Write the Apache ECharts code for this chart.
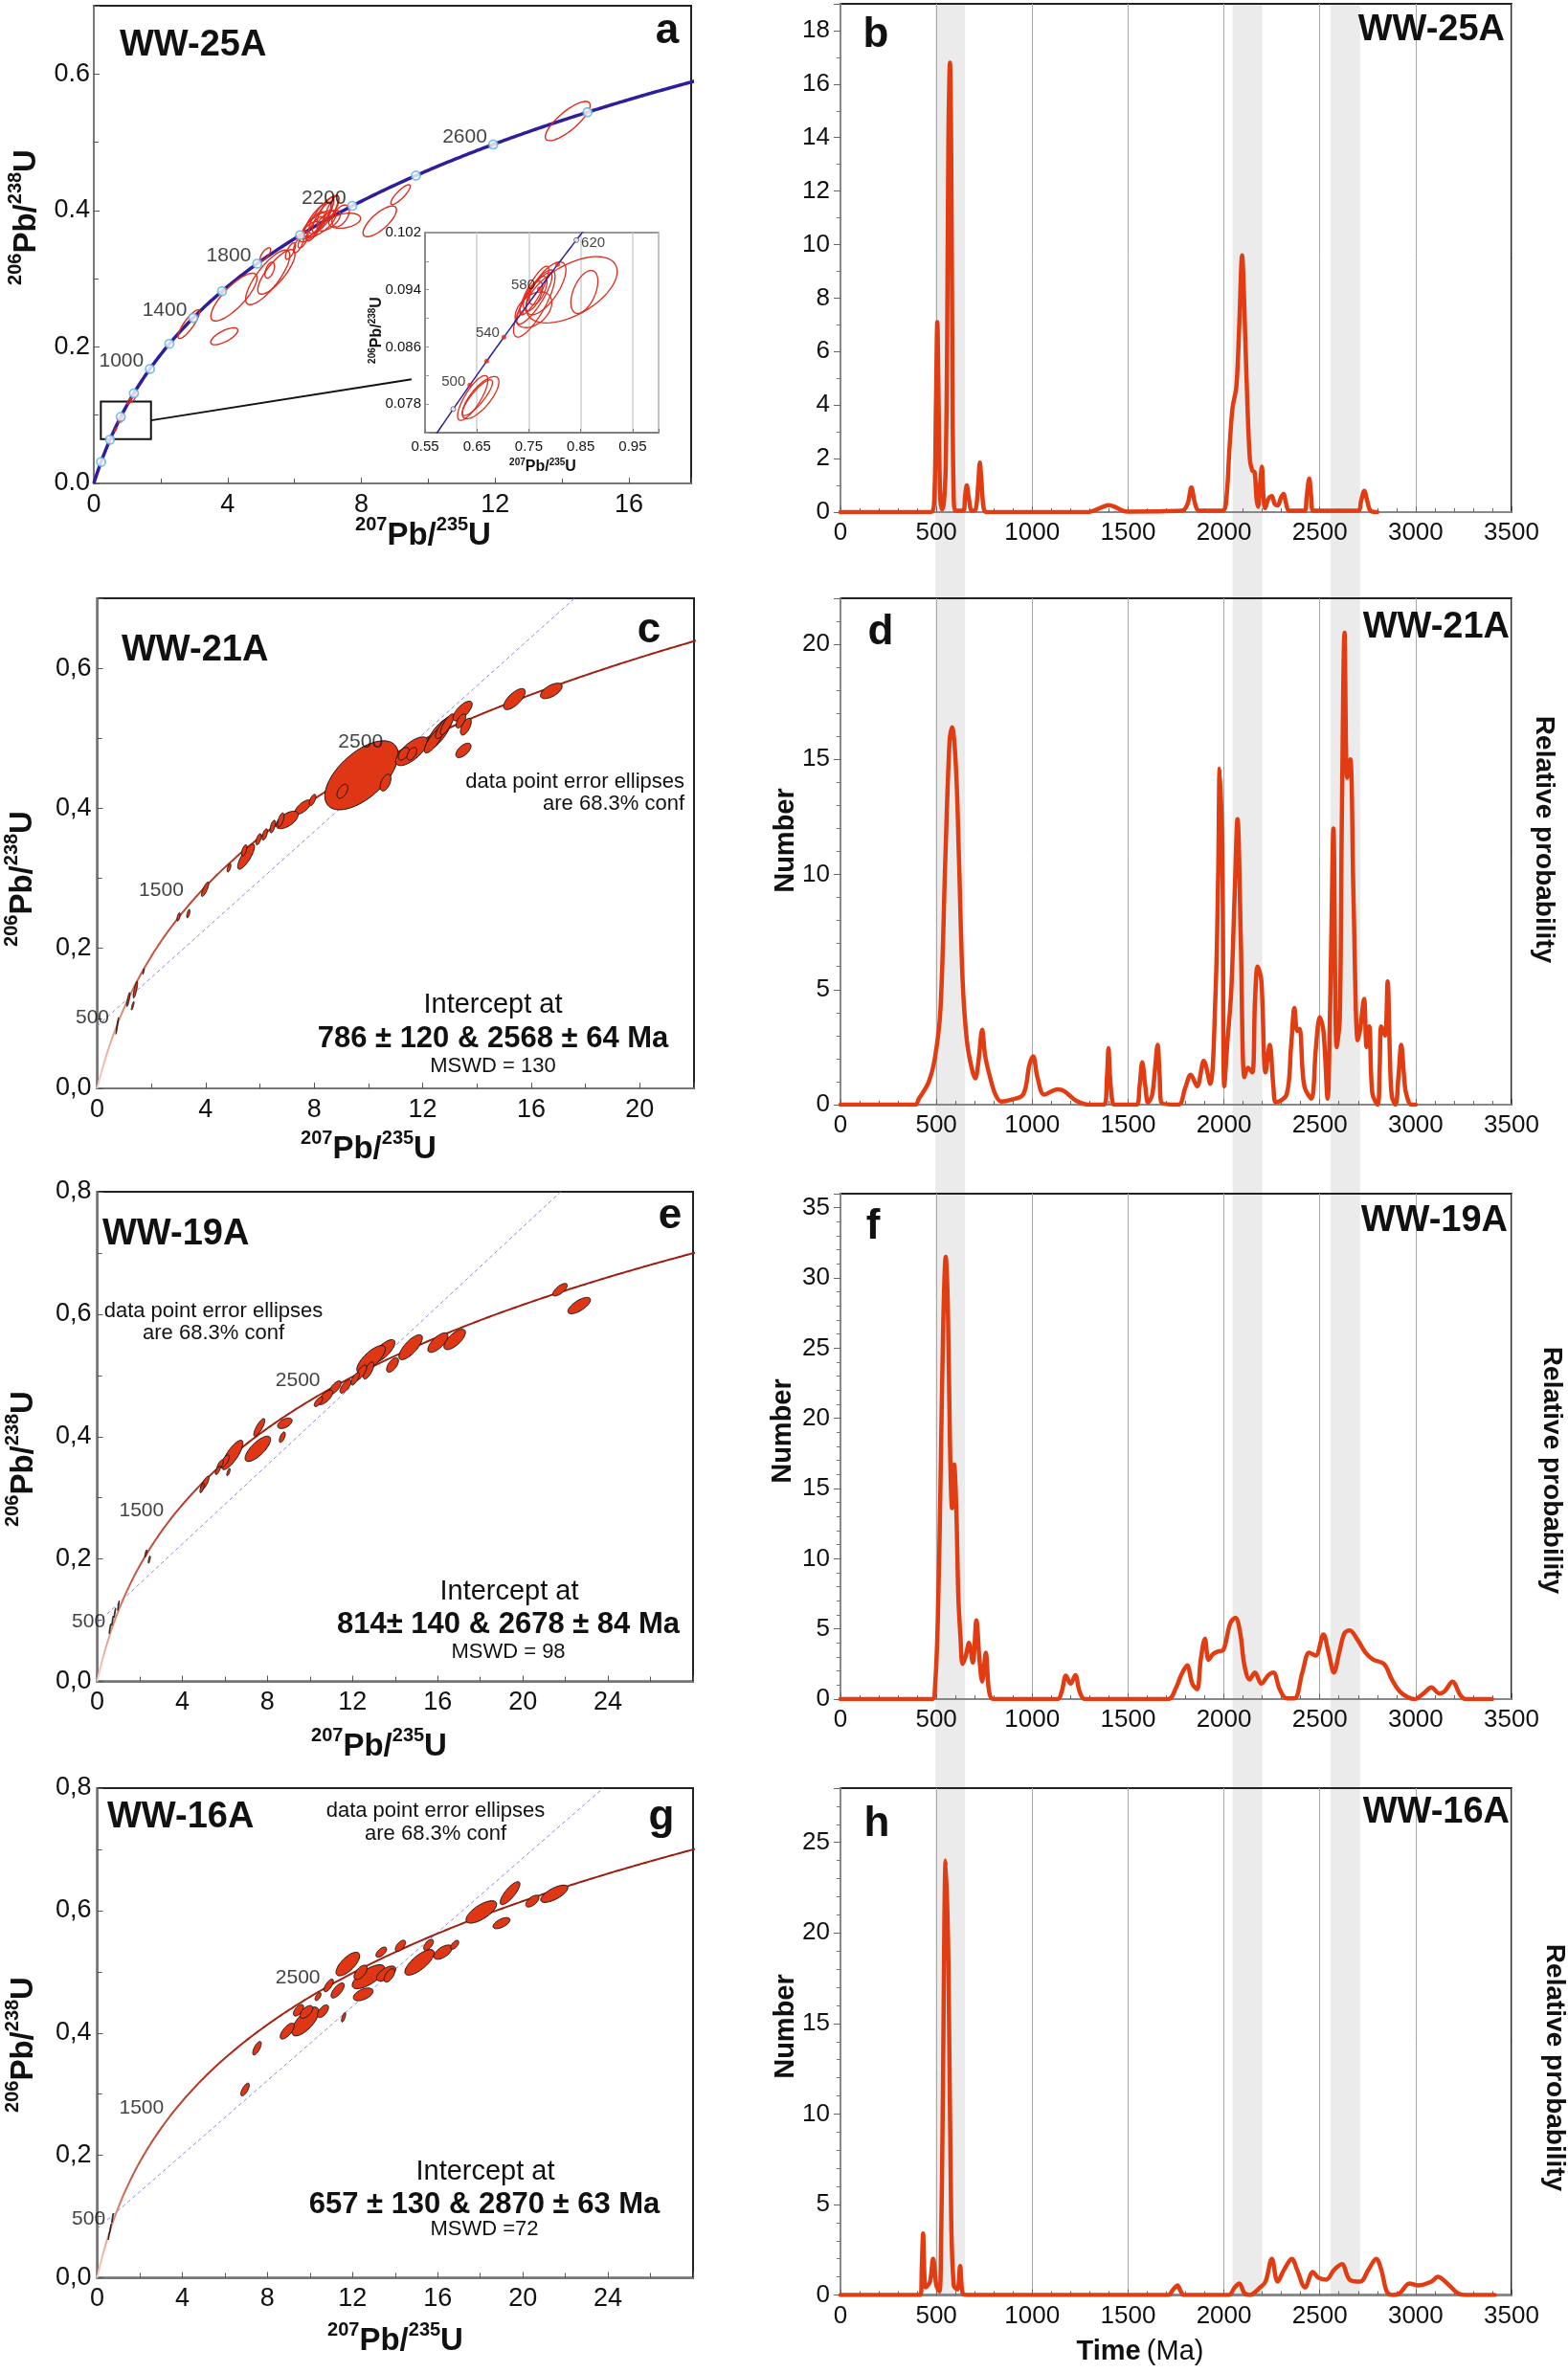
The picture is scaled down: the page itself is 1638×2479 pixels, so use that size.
<!DOCTYPE html>
<html>
<head>
<meta charset="utf-8">
<script src="https://cdn.jsdelivr.net/npm/echarts@6/dist/echarts.min.js"></script>
<style>html,body{margin:0;padding:0;background:#fff}#c{width:1638px;height:2479px}</style>
</head>
<body>
<div id="c"></div>
<script>
// ---------------- DATA ----------------
const L238 = 1.55125e-4;   // per Ma
const L235 = 9.8485e-4;    // per Ma
const pdpTicks = [0, 500, 1000, 1500, 2000, 2500, 3000, 3500];
const bandRanges = [[495, 650], [2045, 2200], [2555, 2710]];

// probability density curves [age Ma, number]
const pdpB = [[0,0],[470,0],[488,0.3],[498,4],[505,7.1],[512,4],[520,0.6],[530,0.1],[540,0.4],[549,1.75],[556,6],[563,14],[571,16.8],[578,13],[584,5],[590,0.8],[600,0.05],[640,0.05],[650,0.6],[659,1.0],[668,0.6],[685,0.05],[705,0.1],[718,1.0],[727,1.85],[735,1.2],[748,0.1],[765,0],[1290,0],[1330,0.08],[1370,0.2],[1400,0.26],[1430,0.2],[1470,0.06],[1500,0.02],[1780,0.05],[1810,0.3],[1830,0.92],[1850,0.3],[1870,0.05],[1990,0.05],[2010,0.3],[2030,2.5],[2045,3.9],[2065,4.7],[2080,7],[2095,9.6],[2105,8],[2118,5],[2135,2],[2148,1.55],[2160,1.5],[2170,0.5],[2178,0.2],[2188,1.0],[2198,1.7],[2206,0.6],[2215,0.15],[2232,0.5],[2250,0.6],[2265,0.3],[2280,0.25],[2298,0.55],[2310,0.68],[2325,0.3],[2340,0.05],[2420,0.05],[2432,0.6],[2445,1.25],[2455,0.6],[2465,0.05],[2700,0.05],[2715,0.4],[2732,0.8],[2748,0.4],[2765,0.05],[2800,0]];
const pdpD = [[0,0],[390,0],[409,0.26],[459,0.96],[494,2.1],[522,4.2],[547,10.7],[569,15.8],[582,16.4],[602,14.7],[618,10.7],[637,5.4],[659,2.8],[684,1.6],[703,1.14],[720,1.9],[739,3.25],[755,2.1],[780,1.2],[808,0.44],[838,0.14],[885,0.2],[953,0.44],[986,1.75],[1005,2.1],[1027,1.2],[1063,0.44],[1132,0.67],[1165,0.6],[1228,0.18],[1297,0],[1375,0],[1390,1.2],[1398,2.45],[1406,1.2],[1420,0.05],[1434,0],[1544,0],[1560,0.8],[1574,1.84],[1590,0.8],[1604,0.1],[1625,0.4],[1640,1.5],[1654,2.6],[1665,1.2],[1673,0.1],[1764,0],[1797,0.7],[1827,1.3],[1860,0.8],[1895,1.9],[1928,0.9],[1956,4.8],[1970,10],[1978,14.6],[1992,10.7],[2002,0.8],[2019,2.8],[2038,4.9],[2055,8.9],[2071,12.4],[2088,7.2],[2107,1.2],[2126,1.6],[2148,1.4],[2162,4.5],[2176,6.0],[2195,5.4],[2217,1.4],[2239,2.6],[2258,0.8],[2272,0.1],[2327,0.44],[2350,2.5],[2368,4.2],[2382,3.2],[2395,3.3],[2410,1.5],[2423,0.7],[2456,0.26],[2480,2.5],[2500,3.8],[2519,3.2],[2541,0.26],[2552,3.5],[2560,7.2],[2571,12.0],[2588,2.5],[2604,3.7],[2615,12.4],[2629,20.5],[2643,14.2],[2659,15.0],[2676,8.9],[2698,2.8],[2711,3.3],[2731,4.6],[2744,2.5],[2758,3.4],[2774,0.5],[2802,0],[2812,1.5],[2821,3.4],[2840,3.0],[2854,5.35],[2866,2],[2876,0.35],[2895,0],[2910,1.2],[2925,2.6],[2940,1.2],[2950,0.5],[2978,0],[3000,0]];
const pdpF = [[0,0],[478,0],[494,1.1],[508,5.8],[522,15.6],[536,26.7],[549,31.5],[560,28],[571,18.3],[582,13.6],[593,16.7],[604,13.6],[615,7.2],[626,4.4],[637,2.5],[654,3.1],[670,4.0],[690,2.6],[709,5.6],[725,2.8],[739,1.25],[758,3.3],[775,0.55],[797,0],[1132,0],[1154,0.55],[1176,1.67],[1200,1.1],[1225,1.7],[1247,0.55],[1275,0],[1709,0],[1750,0.8],[1777,1.7],[1808,2.4],[1835,1.1],[1860,0.7],[1879,2.8],[1901,4.3],[1920,2.8],[1942,3.2],[1970,3.4],[1997,3.5],[2033,5.4],[2060,5.8],[2085,4.7],[2107,2.4],[2134,1.4],[2162,1.9],[2195,1.1],[2231,1.7],[2258,1.9],[2291,0.7],[2327,0.05],[2368,0.05],[2409,1.9],[2445,3.3],[2478,3.1],[2519,4.6],[2546,3.3],[2574,1.9],[2601,3.3],[2629,4.7],[2656,4.9],[2698,4.2],[2739,3.3],[2780,2.8],[2835,2.5],[2876,1.4],[2917,0.55],[2959,0.14],[2994,0],[3041,0.4],[3082,0.83],[3123,0.4],[3151,0.55],[3192,1.25],[3233,0.28],[3261,0],[3398,0]];
const pdpH = [[0,0],[418,0],[424,1.5],[431,3.4],[438,1],[445,0.42],[467,0.74],[483,2.0],[500,0.53],[516,0.2],[525,3],[533,9.9],[549,24.0],[563,18.4],[577,4.6],[591,0.53],[610,0.3],[624,1.6],[637,0.1],[659,0],[1709,0],[1735,0.3],[1758,0.53],[1775,0.2],[1791,0],[2025,0],[2055,0.4],[2080,0.64],[2107,0.1],[2134,0],[2189,0.42],[2217,0.74],[2250,2.0],[2280,0.74],[2313,1.38],[2354,2.0],[2382,1.38],[2423,0.42],[2464,1.27],[2492,0.96],[2533,0.85],[2574,1.38],[2615,1.7],[2656,0.85],[2711,0.74],[2753,1.38],[2794,2.0],[2821,1.38],[2849,0.2],[2876,0],[2917,0.1],[2967,0.64],[3013,0.53],[3082,0.74],[3115,1.0],[3165,0.64],[3220,0.1],[3261,0],[3412,0]];

// error ellipses [207Pb/235U, 206Pb/238U, half-width x, half-height y, correlation]
const ellA = [[2.84,0.2333,0.32,0.021,0.85],[3.90,0.2156,0.405,0.0124,0.7],[4.19,0.273,0.69,0.035,0.8],[5.2,0.302,0.66,0.04,0.8],[5.46,0.310,0.557,0.0327,0.8],[5.26,0.3126,0.143,0.0117,0.5],[5.13,0.336,0.157,0.0093,0.7],[5.88,0.3406,0.15,0.012,0.7],[6.12,0.3499,0.15,0.012,0.7],[6.26,0.357,0.15,0.012,0.7],[6.55,0.378,0.35,0.02,0.8],[6.69,0.387,0.4,0.025,0.8],[6.83,0.390,0.3,0.022,0.8],[6.93,0.399,0.25,0.02,0.8],[7.12,0.404,0.2,0.018,0.8],[6.45,0.369,0.3,0.015,0.7],[6.74,0.380,0.5,0.02,0.7],[7.02,0.385,0.35,0.015,0.6],[6.60,0.373,0.25,0.018,0.8],[6.88,0.394,0.45,0.028,0.8],[7.50,0.385,0.476,0.011,0.3],[7.38,0.392,0.26,0.016,0.5],[8.55,0.384,0.5,0.0225,0.75],[9.17,0.4232,0.29,0.0145,0.85],[14.17,0.531,0.67,0.0287,0.8],[1.18,0.125,0.08,0.006,0.8],[1.05,0.12,0.05,0.004,0.8]];
const ellInset = [[0.642,0.07886,0.0292,0.00314,0.8],[0.657,0.0789,0.0354,0.00296,0.75],[0.651,0.0789,0.029,0.0025,0.85],[0.7606,0.09208,0.04,0.0047,0.8],[0.7606,0.0928,0.034,0.0036,0.85],[0.7606,0.0939,0.0277,0.0034,0.85],[0.783,0.0942,0.0385,0.0037,0.7],[0.758,0.0931,0.0185,0.0021,0.6],[0.768,0.0939,0.017,0.002,0.6],[0.8326,0.094,0.0877,0.00464,0.55],[0.857,0.0937,0.026,0.003,0.5],[0.7589,0.0912,0.0354,0.0025,0.4]];
const ellC = [[9.745,0.4472,1.353,0.0493,0.6],[9.04,0.4244,0.2,0.01,0.5],[10.63,0.4367,0.2,0.012,0.5],[11.59,0.4815,0.588,0.0205,0.7],[11.3,0.478,0.2,0.009,0.5],[11.6,0.478,0.18,0.009,0.5],[12.59,0.5065,0.47,0.0228,0.8],[12.41,0.497,0.35,0.018,0.8],[12.77,0.5156,0.3,0.016,0.8],[12.9,0.52,0.25,0.015,0.8],[13.47,0.539,0.353,0.0141,0.7],[13.41,0.5247,0.18,0.01,0.6],[13.59,0.5166,0.2,0.012,0.6],[13.5,0.4828,0.28,0.0103,0.6],[15.38,0.556,0.4,0.015,0.7],[16.74,0.5677,0.4,0.011,0.6],[7.59,0.4017,0.3,0.0103,0.7],[7.94,0.412,0.12,0.008,0.6],[7.0,0.3834,0.41,0.0125,0.6],[6.77,0.3834,0.12,0.01,0.6],[6.47,0.374,0.1,0.009,0.6],[6.18,0.3627,0.1,0.008,0.6],[5.95,0.3558,0.1,0.008,0.6],[5.49,0.331,0.31,0.018,0.8],[5.42,0.34,0.1,0.008,0.6],[4.86,0.315,0.07,0.006,0.6],[3.98,0.2844,0.135,0.0103,0.8],[3.0,0.245,0.06,0.006,0.6],[3.36,0.2496,0.06,0.006,0.6],[1.41,0.141,0.08,0.012,0.8],[1.15,0.127,0.06,0.01,0.8],[1.31,0.118,0.05,0.006,0.8],[1.71,0.167,0.03,0.004,0.8],[0.74,0.0894,0.05,0.012,0.95]];
const ellE = [[21.75,0.64,0.34,0.0102,0.7],[22.65,0.614,0.53,0.0134,0.7],[16.8,0.5587,0.506,0.0166,0.7],[16.01,0.5535,0.47,0.016,0.7],[14.73,0.546,0.55,0.0204,0.75],[13.88,0.517,0.28,0.0118,0.6],[13.43,0.5394,0.56,0.019,0.75],[12.87,0.5266,0.67,0.0223,0.75],[12.75,0.508,0.25,0.014,0.7],[12.41,0.505,0.25,0.012,0.7],[12.12,0.4945,0.2,0.01,0.7],[11.67,0.482,0.26,0.011,0.7],[11.18,0.48,0.28,0.011,0.7],[10.73,0.464,0.34,0.0118,0.7],[10.4,0.457,0.2,0.008,0.7],[8.82,0.4217,0.34,0.0086,0.5],[8.7,0.399,0.14,0.0086,0.6],[7.62,0.415,0.26,0.0144,0.8],[7.55,0.38,0.6,0.0207,0.75],[6.35,0.37,0.5,0.024,0.8],[6.01,0.36,0.2,0.01,0.7],[5.78,0.354,0.15,0.008,0.7],[5.67,0.345,0.12,0.007,0.7],[6.17,0.342,0.08,0.006,0.7],[5.06,0.3237,0.2,0.0115,0.8],[4.93,0.316,0.1,0.008,0.7],[2.29,0.209,0.05,0.006,0.7],[2.45,0.199,0.05,0.006,0.7],[1.0,0.124,0.04,0.008,0.9],[0.83,0.112,0.04,0.008,0.9],[0.72,0.099,0.04,0.008,0.9],[0.6,0.086,0.04,0.008,0.9]];
const ellG = [[9.78,0.4187,0.637,0.0235,0.7],[8.93,0.403,0.33,0.013,0.7],[9.46,0.437,0.24,0.0094,0.6],[9.83,0.4344,0.3,0.0104,0.6],[10.61,0.4355,0.26,0.0104,0.6],[10.38,0.4594,0.14,0.0065,0.6],[10.88,0.4777,0.22,0.0104,0.7],[11.3,0.4694,0.31,0.0123,0.7],[11.58,0.4256,0.1,0.0078,0.7],[11.78,0.5126,0.555,0.0193,0.7],[12.5,0.463,0.46,0.0104,0.5],[12.75,0.4918,0.765,0.0196,0.7],[12.38,0.499,0.31,0.0117,0.6],[13.58,0.497,0.45,0.0123,0.6],[13.73,0.494,0.25,0.011,0.6],[13.35,0.532,0.25,0.0083,0.6],[14.25,0.5424,0.24,0.0091,0.6],[15.15,0.5153,0.69,0.0209,0.75],[15.57,0.544,0.23,0.0089,0.6],[16.25,0.532,0.43,0.0117,0.6],[16.8,0.544,0.19,0.0073,0.6],[18.05,0.5977,0.72,0.0183,0.7],[19.4,0.6284,0.465,0.0188,0.8],[19.0,0.5794,0.4,0.0091,0.6],[20.45,0.6154,0.31,0.0096,0.6],[21.48,0.6274,0.64,0.0141,0.7],[7.51,0.375,0.2,0.011,0.7],[6.95,0.3075,0.2,0.0105,0.7],[0.72,0.0975,0.04,0.008,0.9],[0.62,0.08,0.04,0.008,0.9],[0.55,0.068,0.03,0.006,0.9]];

// discordia lines
const discordiaC = [[0, 0.089], [17.6, 0.7]];
const discordiaE = [[0, 0.095], [21.78, 0.8]];
const discordiaG = [[0, 0.080], [23.78, 0.8]];

// concordia age markers / labels
const markAgesA = [200,400,600,800,1000,1200,1400,1600,1800,2000,2200,2400,2600,2800];
const labelAgesA = [1000,1400,1800,2200,2600];
const insetMarkAges = [480,500,520,540,560,580,600,620];
const insetLabelAges = [500,540,580,620];
const labelAgesCEG = [500,1500,2500];

const samples = ['WW-25A','WW-21A','WW-19A','WW-16A'];
const interceptLines = ['786 ± 120 & 2568 ± 64 Ma','814± 140 & 2678 ± 84 Ma','657 ± 130 & 2870 ± 63 Ma'];
const mswdLines = ['MSWD = 130','MSWD = 98','MSWD =72'];

// ---------------- HELPERS ----------------
const FONT = "'Liberation Sans', Arial, Helvetica, sans-serif";
const PDP_COLOR = '#e23c12';
const ELL_FILL = '#df3616';
function conc(t){ return [Math.exp(L235*t)-1, Math.exp(L238*t)-1]; }
function concCurve(t0, t1, step){ const a=[]; for(let t=t0;t<=t1;t+=step) a.push(conc(t)); return a; }
function isMult(v, s, base){ base = base||0; const q=(v-base)/s; return Math.abs(q-Math.round(q))<1e-6; }

function ellRender(fill, stroke, lw){
  return function(params, api){
    const cx=api.value(0), cy=api.value(1), hw=api.value(2), hh=api.value(3), r=api.value(4);
    const s=Math.sqrt(1-r*r), pts=[];
    for(let k=0;k<64;k++){ const th=2*Math.PI*k/64, c=Math.cos(th), sn=Math.sin(th);
      pts.push(api.coord([cx+hw*c, cy+hh*(r*c+s*sn)])); }
    return {type:'polygon', shape:{points:pts}, style:{fill:fill, stroke:stroke, lineWidth:lw}};
  };
}
function ellSeries(data, gi, fill, stroke, lw, z){
  return {type:'custom', xAxisIndex:gi, yAxisIndex:gi, data:data, clip:true, silent:true, z:z||3,
    dimensions:['x','y','hw','hh','rho'], encode:{x:0,y:1}, renderItem: ellRender(fill, stroke, lw)};
}

const grids = [
  {left:98, top:6, width:624, height:499},              // a
  {left:444, top:243, width:244, height:209, z:10, backgroundColor:'#fff', borderColor:'#777', borderWidth:1.5}, // inset
  {left:878, top:4, width:701, height:531},             // b
  {left:101.5, top:625, width:623.5, height:512},       // c
  {left:878, top:625, width:701, height:529},           // d
  {left:101.5, top:1245, width:622.5, height:511.5},    // e
  {left:878, top:1247, width:701, height:528},          // f
  {left:101.5, top:1868, width:622.5, height:511.5},    // g
  {left:878, top:1868, width:701, height:529.5}         // h
].map(g => Object.assign({show:true, borderColor:'#222', borderWidth:2, backgroundColor:'transparent'}, g));

function concX(gi, max, interval){
  return {type:'value', gridIndex:gi, min:0, max:max, interval:interval,
    axisLine:{show:true, onZero:false, lineStyle:{color:'#777', width:2}},
    axisTick:{show:true, inside:true, length:6, lineStyle:{color:'#555'}},
    minorTick:{show:true, splitNumber:2, length:5, lineStyle:{color:'#555'}},
    splitLine:{show:false},
    axisLabel:{fontSize:27, color:'#111', fontFamily:FONT, margin:9, showMaxLabel:false,
      formatter: v => isMult(v, interval) ? String(Math.round(v)) : ''}};
}
function concY(gi, max, comma, margin){
  return {type:'value', gridIndex:gi, min:0, max:max, interval:0.2,
    axisLine:{show:true, onZero:false, lineStyle:{color:'#777', width:2}},
    axisTick:{show:true, inside:true, length:6, lineStyle:{color:'#555'}},
    minorTick:{show:true, splitNumber:2, length:5, lineStyle:{color:'#555'}},
    splitLine:{show:false},
    axisLabel:{fontSize:27, color:'#111', fontFamily:FONT, margin:margin,
      formatter: v => { if(!isMult(v,0.2)) return ''; const s=v.toFixed(1); return comma ? s.replace('.',',') : s; }}};
}
function pdpX(gi){
  return {type:'value', gridIndex:gi, min:0, max:3500, interval:500,
    axisLine:{show:true, onZero:false, lineStyle:{color:'#888', width:2}},
    axisTick:{show:true, inside:true, length:6, lineStyle:{color:'#666'}},
    minorTick:{show:true, splitNumber:5, length:4, lineStyle:{color:'#666'}},
    splitLine:{show:true, lineStyle:{color:'#a8a8a8', width:1}},
    axisLabel:{fontSize:26, color:'#111', fontFamily:FONT, margin:9,
      formatter: v => pdpTicks.includes(v) ? String(v) : ''}};
}
function pdpY(gi, max, interval, minorSplit){
  return {type:'value', gridIndex:gi, min:0, max:max, interval:interval,
    axisLine:{show:true, onZero:false, lineStyle:{color:'#888', width:2}},
    axisTick:{show:true, inside:false, length:7, lineStyle:{color:'#666'}},
    minorTick:{show:true, splitNumber:minorSplit, length:4, lineStyle:{color:'#777'}},
    splitLine:{show:false},
    axisLabel:{fontSize:26, color:'#111', fontFamily:FONT, margin:11,
      formatter: v => isMult(v, interval) ? String(Math.round(v)) : ''}};
}

const xAxes = [
  concX(0, 17.86, 4),
  {type:'value', gridIndex:1, min:0.55, max:1.0, interval:0.1, z:11,
    axisLine:{show:true, onZero:false, lineStyle:{color:'#777', width:1.5}},
    axisTick:{show:true, inside:true, length:4, lineStyle:{color:'#777'}},
    splitLine:{show:true, lineStyle:{color:'#cfcfcf', width:1.5}},
    axisLabel:{fontSize:15, color:'#111', fontFamily:FONT, margin:7,
      formatter: v => (v < 0.99) ? v.toFixed(2) : ''}},
  pdpX(2), concX(3, 22, 4), pdpX(4), concX(5, 28, 4), pdpX(6), concX(7, 28, 4), pdpX(8)
];
const yAxes = [
  concY(0, 0.7, false, 4),
  {type:'value', gridIndex:1, min:0.074, max:0.102, interval:0.004, z:11,
    axisLine:{show:true, onZero:false, lineStyle:{color:'#777', width:1.5}},
    axisTick:{show:true, inside:true, length:4, lineStyle:{color:'#999'}},
    splitLine:{show:false},
    axisLabel:{fontSize:15, color:'#111', fontFamily:FONT, margin:4,
      formatter: v => isMult(v, 0.008, 0.078) ? v.toFixed(3) : ''}},
  pdpY(2, 19, 2, 2), concY(3, 0.7, true, 6), pdpY(4, 22, 5, 5), concY(5, 0.8, true, 6), pdpY(6, 36, 5, 5), concY(7, 0.8, true, 6), pdpY(8, 28, 5, 5)
];

// ---------------- SERIES ----------------
const series = [];
// Panel a
series.push({type:'line', xAxisIndex:0, yAxisIndex:0, data:concCurve(0, 3000, 5), showSymbol:false, symbol:'none', z:2, silent:true,
  lineStyle:{color:'#2d1f9c', width:3.5},
  markLine:{silent:true, symbol:['none','arrow'], symbolSize:[0,20], label:{show:false},
    lineStyle:{color:'#111', width:2, type:'solid'},
    data:[[{coord:[1.714,0.0924]},{coord:[9.5,0.1526]}]]},
  markArea:{silent:true, itemStyle:{color:'rgba(0,0,0,0)', borderColor:'#111', borderWidth:2},
    data:[[{coord:[0.21,0.065]},{coord:[1.71,0.12]}]]}
});
series.push(ellSeries(ellA, 0, 'none', '#e02a1c', 1.4, 3));
series.push(ellSeries(ellInset, 0, 'none', '#e02a1c', 1.0, 3));
series.push({type:'scatter', xAxisIndex:0, yAxisIndex:0, z:4, silent:true, symbol:'circle', symbolSize:9,
  itemStyle:{color:'#ffffff', borderColor:'#5ab0dd', borderWidth:1.8},
  data: markAgesA.map(t => ({value:conc(t), name:String(t), label:{show: labelAgesA.includes(t)}})),
  label:{position:'left', distance:1, offset:[0,-8], formatter:'{b}', fontSize:21, color:'#111', fontFamily:FONT}
});
// Inset
series.push({type:'line', xAxisIndex:1, yAxisIndex:1, data:concCurve(430, 720, 2), showSymbol:false, symbol:'none', z:12, silent:true,
  lineStyle:{color:'#2d1f9c', width:1.5}});
series.push(ellSeries(ellInset, 1, 'none', '#e02a1c', 1.3, 12));
series.push({type:'scatter', xAxisIndex:1, yAxisIndex:1, z:13, silent:true, symbol:'circle', symbolSize:5,
  data: insetMarkAges.map(t => {
    const open = (t===480 || t===620);
    return {value:conc(t), name:String(t),
      itemStyle: open ? {color:'#fff', borderColor:'#445', borderWidth:1} : {color:'#e02a1c'},
      label:{show: insetLabelAges.includes(t), position: t===620 ? 'right' : 'left', offset: t===620 ? [0,3] : [0,-4]}};
  }),
  label:{distance:2, formatter:'{b}', fontSize:15, color:'#111', fontFamily:FONT}
});
// PDP panels
[[pdpB,2],[pdpD,4],[pdpF,6],[pdpH,8]].forEach(([d,gi]) => {
  series.push({type:'line', xAxisIndex:gi, yAxisIndex:gi, data:d, smooth:0.35, showSymbol:false, symbol:'none', z:3, silent:true,
    lineStyle:{color:PDP_COLOR, width:4.5, join:'round', cap:'round'}});
});
// Concordia panels c, e, g
const concGrad = {type:'linear', x:0, y:1, x2:1, y2:0, colorStops:[
  {offset:0, color:'#f6d6c8'},{offset:0.1, color:'#c65a44'},{offset:0.3, color:'#a32312'},{offset:1, color:'#9a1a0c'}]};
[[ellC, discordiaC, 3, 22, -15],[ellE, discordiaE, 5, 28, -11],[ellG, discordiaG, 7, 28, -10]].forEach(([ell, disc, gi, xmax, lo]) => {
  series.push({type:'line', xAxisIndex:gi, yAxisIndex:gi, data:disc, showSymbol:false, symbol:'none', z:2, silent:true,
    lineStyle:{color:'#8c88d8', width:1, type:[4,3]}});
  series.push({type:'line', xAxisIndex:gi, yAxisIndex:gi, data:concCurve(0, 3600, 5), showSymbol:false, symbol:'none', z:2, silent:true,
    lineStyle:{color:concGrad, width:2}});
  series.push(ellSeries(ell, gi, ELL_FILL, '#151515', 1, 3));
  series.push({type:'scatter', xAxisIndex:gi, yAxisIndex:gi, z:4, silent:true, symbolSize:1, itemStyle:{color:'rgba(0,0,0,0)'},
    data: labelAgesCEG.map(t => ({value:conc(t), name:String(t)})),
    label:{show:true, position:'left', distance:5, offset:[0,lo], formatter:'{b}', fontSize:21, color:'#111', fontFamily:FONT}});
});

// ---------------- TEXT ----------------
function rich(main, sup){
  return {m:{fontSize:main, fontWeight:'bold', fontFamily:FONT, fill:'#111', lineHeight:Math.round(main*1.15), verticalAlign:'bottom'},
          s:{fontSize:sup, fontWeight:'bold', fontFamily:FONT, fill:'#111', verticalAlign:'top'}};
}
const T207 = '{s|207}{m|Pb/}{s|235}{m|U}';
const T206 = '{s|206}{m|Pb/}{s|238}{m|U}';
function txt(id, x, y, text, opts){
  opts = opts || {};
  return {type:'text', id:id, x:x, y:y, rotation:opts.rot||0, silent:true, z:20,
    style:Object.assign({text:text, align:opts.align||'center', verticalAlign:'middle', fill:'#111',
      fontFamily:FONT, fontSize:opts.size||22, fontWeight:opts.bold?'bold':'normal'}, opts.rich ? {rich:opts.rich} : {})};
}
const graphics = [
  txt('s1', 125, 48, samples[0], {align:'left', size:38, bold:true}),
  txt('la', 697, 33, 'a', {size:44, bold:true}),
  txt('lb', 915, 37, 'b', {size:44, bold:true}),
  txt('s1b', 1572, 32, samples[0], {align:'right', size:38, bold:true}),
  txt('s2', 127, 680, samples[1], {align:'left', size:38, bold:true}),
  txt('lc', 678, 659, 'c', {size:44, bold:true}),
  txt('ld', 920, 661, 'd', {size:44, bold:true}),
  txt('s2b', 1577, 656, samples[1], {align:'right', size:38, bold:true}),
  txt('s3', 107, 1290, samples[2], {align:'left', size:38, bold:true}),
  txt('le', 700, 1271, 'e', {size:44, bold:true}),
  txt('lf', 912, 1282, 'f', {size:44, bold:true}),
  txt('s3b', 1575, 1276, samples[2], {align:'right', size:38, bold:true}),
  txt('s4', 112, 1899, samples[3], {align:'left', size:38, bold:true}),
  txt('lg', 691, 1899, 'g', {size:44, bold:true}),
  txt('lh', 916, 1906, 'h', {size:44, bold:true}),
  txt('s4b', 1577, 1894, samples[3], {align:'right', size:38, bold:true}),
  // axis titles concordia
  txt('ax_a', 442, 557, T207, {rich:rich(33,20)}),
  txt('ay_a', 25, 227, T206, {rich:rich(33,20), rot:Math.PI/2}),
  txt('ax_c', 385, 1198, T207, {rich:rich(33,20)}),
  txt('ay_c', 21, 918, T206, {rich:rich(33,20), rot:Math.PI/2}),
  txt('ax_e', 396, 1822, T207, {rich:rich(33,20)}),
  txt('ay_e', 22, 1524, T206, {rich:rich(33,20), rot:Math.PI/2}),
  txt('ax_g', 413, 2443, T207, {rich:rich(33,20)}),
  txt('ay_g', 22, 2136, T206, {rich:rich(33,20), rot:Math.PI/2}),
  txt('ax_i', 567, 487, T207, {rich:rich(16,10)}),
  txt('ay_i', 393, 345, T206, {rich:rich(16,10), rot:Math.PI/2}),
  // ellipse notes
  txt('n_c1', 715, 817, 'data point error ellipses', {align:'right'}),
  txt('n_c2', 715, 840, 'are 68.3% conf', {align:'right'}),
  txt('n_e1', 223, 1370, 'data point error ellipses'),
  txt('n_e2', 223, 1393, 'are 68.3% conf'),
  txt('n_g1', 455, 1892, 'data point error ellipses'),
  txt('n_g2', 455, 1916, 'are 68.3% conf'),
  // intercepts
  txt('i_c1', 515, 1050, 'Intercept at', {size:29}),
  txt('i_c2', 515, 1085, interceptLines[0], {size:31, bold:true}),
  txt('i_c3', 515, 1114, mswdLines[0], {size:22}),
  txt('i_e1', 532, 1663, 'Intercept at', {size:29}),
  txt('i_e2', 531, 1697, interceptLines[1], {size:31, bold:true}),
  txt('i_e3', 531, 1726, mswdLines[1], {size:22}),
  txt('i_g1', 507, 2269, 'Intercept at', {size:29}),
  txt('i_g2', 506, 2303, interceptLines[2], {size:31, bold:true}),
  txt('i_g3', 506, 2329, mswdLines[2], {size:22}),
  // PDP titles
  txt('n_d', 821, 878, 'Number', {size:29, bold:true, rot:Math.PI/2}),
  txt('n_f', 818, 1495, 'Number', {size:29, bold:true, rot:Math.PI/2}),
  txt('n_h', 821, 2117, 'Number', {size:29, bold:true, rot:Math.PI/2}),
  txt('r_d', 1613, 877, 'Relative probability', {size:28, bold:true, rot:-Math.PI/2}),
  txt('r_f', 1621, 1536, 'Relative probability', {size:28, bold:true, rot:-Math.PI/2}),
  txt('r_h', 1624, 2160, 'Relative probability', {size:28, bold:true, rot:-Math.PI/2}),
  txt('t_h', 1191, 2457, '{b|Time} {n|(Ma)}', {rich:{b:{fontSize:29, fontWeight:'bold', fontFamily:FONT, fill:'#111'}, n:{fontSize:29, fontFamily:FONT, fill:'#111'}}})
];

const chart = echarts.init(document.getElementById('c'), null, {renderer:'canvas'});
chart.setOption({
  backgroundColor:'#ffffff',
  animation:false,
  grid:grids, xAxis:xAxes, yAxis:yAxes, series:series, graphic:graphics
});

// age bands spanning the right-hand column, positioned through the axis scales
const bandGraphics = bandRanges.map((r, i) => {
  const x1 = chart.convertToPixel({xAxisIndex:2}, r[0]);
  const x2 = chart.convertToPixel({xAxisIndex:2}, r[1]);
  const yTop = chart.convertToPixel({yAxisIndex:2}, 19);
  const yBot = chart.convertToPixel({yAxisIndex:8}, 0);
  return {type:'rect', id:'band'+i, z:-1, silent:true, shape:{x:x1, y:yTop, width:x2-x1, height:yBot-yTop}, style:{fill:'#ebebeb'}};
});
chart.setOption({graphic: bandGraphics});
</script>
</body>
</html>
